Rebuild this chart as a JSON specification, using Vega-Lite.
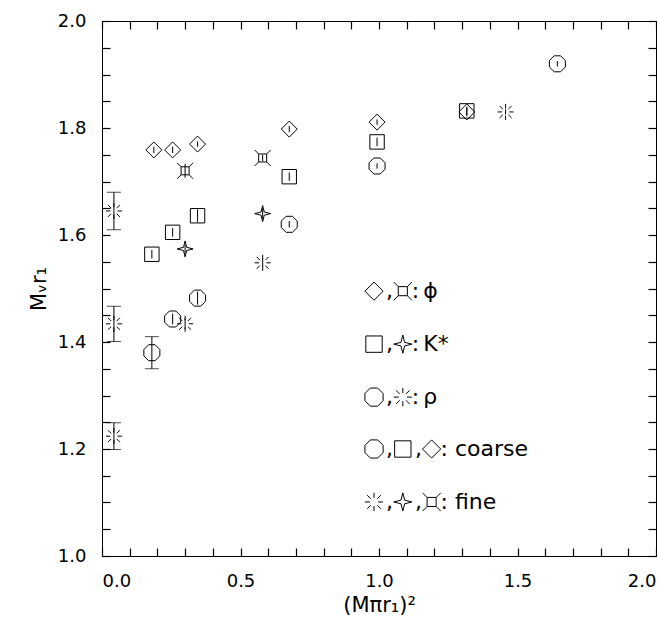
{
"$schema":"https://vega.github.io/schema/vega-lite/v6.json",
"width":554,"height":535,
"padding":{"left":28,"top":12,"right":0,"bottom":0},
"config":{"view":{"stroke":"black","strokeWidth":1},"font":"DejaVu Sans","axis":{"labelOverlap":false,"domain":false,"grid":false,"ticks":true,"tickColor":"black","tickWidth":1.2,"tickSize":8,"offset":-8,"labelColor":"black","titleColor":"black","zindex":1}},
"resolve":{"axis":{"x":"independent","y":"independent"}},
"datasets":{
"pts":[
{"s":"phic","x":0.187,"y":1.759,"e":0.006},{"s":"phic","x":0.255,"y":1.759,"e":0.006},{"s":"phic","x":0.345,"y":1.770,"e":0.005},{"s":"phic","x":0.676,"y":1.798,"e":0.006},{"s":"phic","x":0.993,"y":1.811,"e":0.005},{"s":"phic","x":1.317,"y":1.830,"e":0.008},
{"s":"kc","x":0.18,"y":1.564,"e":0.008},{"s":"kc","x":0.255,"y":1.605,"e":0.008},{"s":"kc","x":0.345,"y":1.636,"e":0.012},{"s":"kc","x":0.676,"y":1.709,"e":0.008},{"s":"kc","x":0.993,"y":1.774,"e":0.008},{"s":"kc","x":1.317,"y":1.832,"e":0.008},
{"s":"rhoc","x":0.18,"y":1.38,"e":0.03},{"s":"rhoc","x":0.255,"y":1.443,"e":0.01},{"s":"rhoc","x":0.345,"y":1.482,"e":0.012},{"s":"rhoc","x":0.676,"y":1.62,"e":0.006},{"s":"rhoc","x":0.993,"y":1.729,"e":0.005},{"s":"rhoc","x":1.644,"y":1.92,"e":0.005},
{"s":"rhof","x":0.043,"y":1.645,"e":0.035},{"s":"rhof","x":0.043,"y":1.434,"e":0.033},{"s":"rhof","x":0.043,"y":1.224,"e":0.025},{"s":"rhof","x":0.30,"y":1.434,"e":0.01},{"s":"rhof","x":0.58,"y":1.548,"e":0.008},{"s":"rhof","x":1.457,"y":1.83,"e":0.005},
{"s":"kf","x":0.30,"y":1.574,"e":0.008},{"s":"kf","x":0.58,"y":1.64,"e":0.01},
{"s":"phif","x":0.30,"y":1.72,"e":0.013},{"s":"phif","x":0.58,"y":1.744,"e":0.006}
],
"leg":[
{"s":"phic","x":0.982,"y":1.495},{"s":"phif","x":1.086,"y":1.495},
{"s":"kc","x":0.982,"y":1.396},{"s":"kf","x":1.086,"y":1.396},
{"s":"rhoc","x":0.982,"y":1.297},{"s":"rhof","x":1.086,"y":1.297},
{"s":"rhoc","x":0.982,"y":1.2},{"s":"kc","x":1.086,"y":1.2},{"s":"phic","x":1.19,"y":1.2},
{"s":"rhof","x":0.982,"y":1.101},{"s":"kf","x":1.086,"y":1.101},{"s":"phif","x":1.19,"y":1.101}
],
"legt":[
{"x":1.025,"y":1.495,"t":","},{"x":1.118,"y":1.495,"t":":"},
{"x":1.025,"y":1.396,"t":","},{"x":1.118,"y":1.396,"t":":"},
{"x":1.025,"y":1.297,"t":","},{"x":1.118,"y":1.297,"t":":"},
{"x":1.025,"y":1.2,"t":","},{"x":1.13,"y":1.2,"t":","},{"x":1.222,"y":1.2,"t":":  coarse"},
{"x":1.025,"y":1.101,"t":","},{"x":1.13,"y":1.101,"t":","},{"x":1.222,"y":1.101,"t":":  fine"},
{"x":1.16,"y":1.297,"t":" ρ"},{"x":1.16,"y":1.495,"t":" ϕ"},{"x":1.16,"y":1.396,"t":" K*"}
]
},
"layer":[
{"data":{"name":"pts"},"mark":{"type":"rule","color":"black","strokeWidth":1},
 "transform":[{"calculate":"datum.y-datum.e","as":"lo"},{"calculate":"datum.y+datum.e","as":"hi"}],
 "encoding":{"x":{"field":"x","type":"quantitative","scale":{"domain":[0,2],"zero":false,"nice":false},
    "axis":{"title":"(Mπr₁)²","titleFontSize":21,"titleFontWeight":"normal","labelFontSize":18,"values":[0,0.1,0.2,0.3,0.4,0.5,0.6,0.7,0.8,0.9,1,1.1,1.2,1.3,1.4,1.5,1.6,1.7,1.8,1.9,2],"labelExpr":"abs(datum.value*2-round(datum.value*2))<0.001?format(datum.value,'.1f'):''","labelPadding":16,"titlePadding":4}},
  "y":{"field":"lo","type":"quantitative","scale":{"domain":[1,2],"zero":false,"nice":false},
    "axis":{"title":"Mᵥr₁","titleFontSize":21,"titleFontWeight":"normal","labelFontSize":18,"values":[1,1.05,1.1,1.15,1.2,1.25,1.3,1.35,1.4,1.45,1.5,1.55,1.6,1.65,1.7,1.75,1.8,1.85,1.9,1.95,2],"labelExpr":"abs(datum.value*5-round(datum.value*5))<0.001?format(datum.value,'.1f'):''","labelPadding":16,"titlePadding":8}},
  "y2":{"field":"hi"}}},
{"data":{"name":"pts"},"mark":{"type":"tick","color":"black","thickness":1,"size":14,"orient":"horizontal"},
 "transform":[{"filter":"datum.e>=0.02"},{"calculate":"datum.y-datum.e","as":"lo"},{"calculate":"datum.y+datum.e","as":"hi"},{"fold":["lo","hi"],"as":["k","v"]}],
 "encoding":{"x":{"field":"x","type":"quantitative","axis":{"orient":"top","labels":false,"title":null,"values":[0,0.1,0.2,0.3,0.4,0.5,0.6,0.7,0.8,0.9,1,1.1,1.2,1.3,1.4,1.5,1.6,1.7,1.8,1.9,2]}},"y":{"field":"v","type":"quantitative","axis":{"orient":"right","labels":false,"title":null,"values":[1,1.05,1.1,1.15,1.2,1.25,1.3,1.35,1.4,1.45,1.5,1.55,1.6,1.65,1.7,1.75,1.8,1.85,1.9,1.95,2]}}}},
{"data":{"name":"pts"},"mark":{"type":"point","filled":false,"color":"black","strokeWidth":1,"size":256,"opacity":1},
 "encoding":{
  "x":{"field":"x","type":"quantitative","axis":null},
  "y":{"field":"y","type":"quantitative","axis":null},
  "shape":{"field":"s","type":"nominal","legend":null,"scale":{"domain":["phic","kc","rhoc","rhof","kf","phif"],
    "range":["M0,-1L1,0L0,1L-1,0Z","M-0.9,-0.9H0.9V0.9H-0.9Z","M-0.4,-1L0.4,-1L1,-0.4L1,0.4L0.4,1L-0.4,1L-1,0.4L-1,-0.4Z",
    "M-1,0L-0.45,0M0.45,0L1,0M-0.75,-0.75L-0.35,-0.35M0.35,0.35L0.75,0.75M0.75,-0.75L0.35,-0.35M-0.35,0.35L-0.75,0.75M0,-1L0,-0.45M0,0.45L0,1",
    "M0,-1L0.2,-0.2L1,0L0.2,0.2L0,1L-0.2,0.2L-1,0L-0.2,-0.2Z",
    "M-0.5,-0.5H0.5V0.5H-0.5ZM-0.5,-0.5L-1,-1M0.5,-0.5L1,-1M0.5,0.5L1,1M-0.5,0.5L-1,1"]}}}},
{"data":{"name":"leg"},"mark":{"type":"point","filled":false,"color":"black","strokeWidth":1,"size":330,"opacity":1},
 "encoding":{"x":{"field":"x","type":"quantitative","axis":null},"y":{"field":"y","type":"quantitative","axis":null},"shape":{"field":"s","type":"nominal","legend":null}}},
{"data":{"name":"legt"},"mark":{"type":"text","align":"left","baseline":"middle","fontSize":22,"color":"black"},
 "encoding":{"x":{"field":"x","type":"quantitative","axis":null},"y":{"field":"y","type":"quantitative","axis":null},"text":{"field":"t"}}}
]
}
